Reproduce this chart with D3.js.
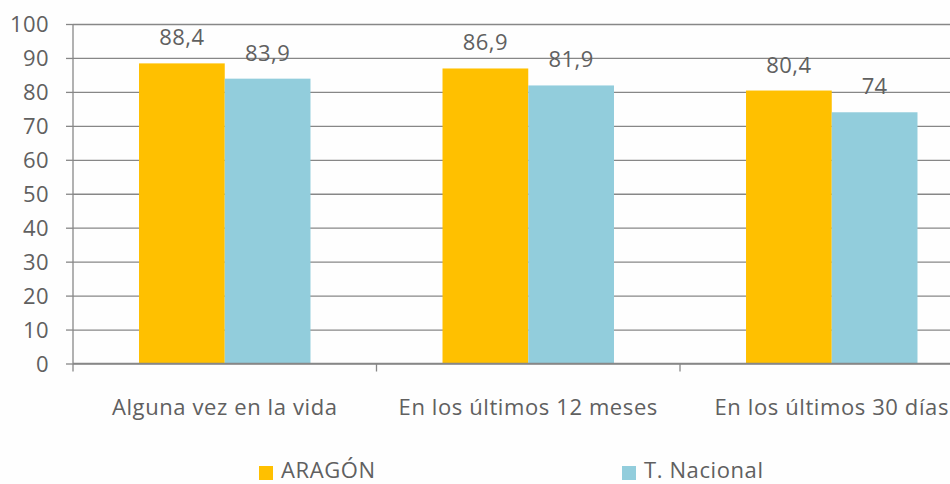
<!DOCTYPE html>
<html><head><meta charset="utf-8">
<script src="https://cdn.jsdelivr.net/npm/d3@7"></script>
<style>body{margin:0;background:#fff}svg{display:block}</style>
</head><body>
<svg id="c" width="950" height="484"></svg>
<script>
const categories = ["Alguna vez en la vida", "En los últimos 12 meses", "En los últimos 30 días"];
const seriesNames = ["ARAGÓN", "T. Nacional"];
const aragon = [88.4, 86.9, 80.4];
const nacional = [83.9, 81.9, 74];
const valueLabels = [["88,4", "83,9"], ["86,9", "81,9"], ["80,4", "74"]];
const yTicks = [0, 10, 20, 30, 40, 50, 60, 70, 80, 90, 100];
const colors = ["#FFC000", "#92CDDC"];

const svg = d3.select("#c");
const font = "'Open Sans', Lato, sans-serif";
const fs = 22;
const textCol = "#606060";
const x0 = 73, yTop = 24, yBot = 363.5;
const catW = 303.5;
const x = d3.scaleBand().domain(categories).range([x0, x0 + catW * 3]).paddingInner(0).paddingOuter(0);
const xs = d3.scaleBand().domain(seriesNames).range([0, catW]).paddingInner(0).paddingOuter(0.77);
const y = d3.scaleLinear().domain([0, 100]).range([yBot, yTop]);

svg.append("rect").attr("width", 950).attr("height", 484).attr("fill", "#fefefe");

// gridlines
const yAxis = d3.axisLeft(y).tickValues(yTicks).tickSize(-(950 - x0)).tickPadding(24).tickSizeOuter(0);
const gy = svg.append("g").attr("transform", `translate(${x0},0)`).call(yAxis);
gy.select(".domain").remove();
gy.selectAll(".tick line").attr("stroke", "#878787").attr("stroke-width", 1.3);
gy.selectAll(".tick").append("line").attr("x1", -7).attr("x2", 0).attr("stroke", "#878787").attr("stroke-width", 1.3);
gy.selectAll(".tick text").attr("font-family", font).attr("font-size", fs).attr("fill", textCol).attr("dy", "0.36em").attr("letter-spacing", 0.4);

// y axis line
svg.append("line").attr("x1", x0).attr("x2", x0).attr("y1", yTop).attr("y2", yBot).attr("stroke", "#878787").attr("stroke-width", 1.3);

// bars
const data = categories.map((c, i) => ({c, vals: [aragon[i], nacional[i]], labels: valueLabels[i]}));
const g = svg.append("g");
data.forEach(d => {
  d.vals.forEach((v, j) => {
    const bx = x(d.c) + xs(seriesNames[j]);
    g.append("rect").attr("x", bx).attr("y", y(v)).attr("width", xs.bandwidth()).attr("height", y(0) - y(v)).attr("fill", colors[j]);
    g.append("text").attr("x", bx + xs.bandwidth() / 2).attr("y", y(v) - 18).attr("text-anchor", "middle")
      .attr("font-family", font).attr("font-size", fs).attr("fill", textCol).attr("letter-spacing", 0.4).text(d.labels[j]);
  });
});

// x axis
const xAxis = d3.axisBottom(x).tickSize(0).tickPadding(0);
const gx = svg.append("g").attr("transform", `translate(0,${yBot})`).call(xAxis);
gx.select(".domain").remove();
gx.selectAll(".tick text").attr("font-family", font).attr("font-size", fs).attr("fill", textCol)
  .attr("dy", "2.33em").attr("letter-spacing", 0.6);
// x axis line + category boundary ticks
svg.append("line").attr("x1", x0).attr("x2", 950).attr("y1", yBot).attr("y2", yBot).attr("stroke", "#878787").attr("stroke-width", 1.3);
categories.forEach(c => {
  svg.append("line").attr("x1", x(c)).attr("x2", x(c)).attr("y1", yBot).attr("y2", yBot + 8).attr("stroke", "#878787").attr("stroke-width", 1.3);
});

// legend
const legX = [259, 622];
seriesNames.forEach((s, i) => {
  svg.append("rect").attr("x", legX[i]).attr("y", 466).attr("width", 14).attr("height", 14).attr("fill", colors[i]);
  svg.append("text").attr("x", legX[i] + 22).attr("y", 478).attr("font-family", font).attr("font-size", fs)
    .attr("fill", textCol).attr("letter-spacing", 0.6).text(s);
});
</script>
</body></html>
